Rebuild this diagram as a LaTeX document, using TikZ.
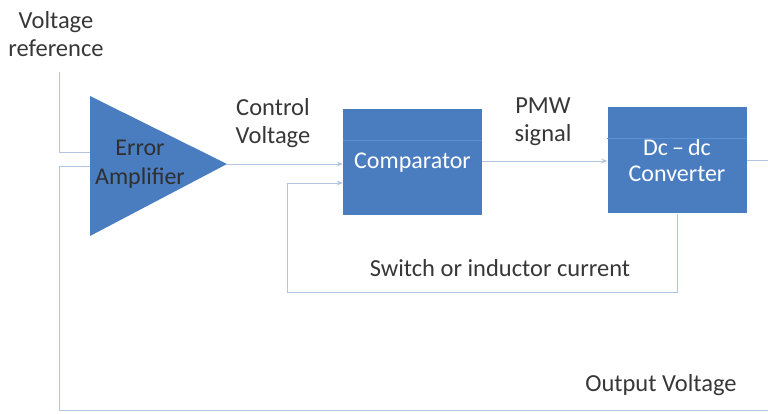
\documentclass[tikz,border=0pt]{standalone}
\usepackage{fontspec}
\setmainfont{Carlito}
\usetikzlibrary{arrows.meta}
\definecolor{boxblue}{RGB}{74,125,192}
\definecolor{wire}{RGB}{178,196,224}
\definecolor{txt}{RGB}{55,55,55}
\definecolor{streak}{RGB}{90,145,210}
\begin{document}
\begin{tikzpicture}[x=1pt,y=-1pt,
  lbl/.style={font=\fontsize{24.5}{28}\selectfont,text=txt,align=center,inner sep=0pt},
  blk/.style={fill=boxblue,draw=none,minimum width=139pt,minimum height=106pt,inner sep=0pt,
     font=\fontsize{24}{26}\selectfont,text=white,align=center},
  wireline/.style={draw=wire,line width=0.9pt},
  arr/.style={wireline,-{Stealth[length=6pt,width=5pt]}}]
\useasboundingbox (0,0) rectangle (768,414);
% triangle
\coordinate (tA) at (90,96);
\coordinate (tB) at (90,236);
\coordinate (apex) at (227,164);
\fill[boxblue] (tA) -- (apex) -- (tB) -- cycle;
\node[lbl,text=txt!85!black,font=\fontsize{24}{29}\selectfont] (ea) at (140,164) {Error\\Amplifier};
% blocks
\node[blk] (comp) at (412.5,162.5) {Comparator};
\node[blk] (conv) at (677,160.5) {Dc\,–\,dc\\Converter};
\draw[streak,line width=0.7pt] (comp.west |- 0,140) -- (comp.east |- 0,140);
\draw[streak,line width=0.7pt] (conv.west |- 0,138) -- (conv.east |- 0,138);
% labels
\node[lbl] (vref) at (56,34) {Voltage\\reference};
\node[lbl] (cv) at (273,123) {Control\\Voltage};
\node[lbl] (pmw) at (543,122) {PMW\\signal};
\node[lbl] (sw) at (500,268) {Switch or inductor current};
\node[lbl] (ov) at (661,385) {Output Voltage};
% coordinates
\coordinate (refTop) at (59,72);
\coordinate (inA) at (90,152);
\coordinate (inB) at (90,166);
\coordinate (fbL) at (59,410);
\coordinate (fbR) at (768,410);
\coordinate (outR) at (768,160);
\coordinate (loopL) at (287,292);
% connectors
\draw[wireline] (refTop) |- (inA);
\draw[wireline] (inB) -| (fbL) -- (fbR);
\draw[arr] (apex) -- (comp.west |- apex);
\draw[arr] (conv.south -| 677,0) |- (loopL) |- (comp.west |- 0,183);
\draw[arr] (comp.east |- 0,161) -- (conv.west |- 0,161);
\draw[wireline] (conv.east |- outR) -- (outR);
\end{tikzpicture}
\end{document}
